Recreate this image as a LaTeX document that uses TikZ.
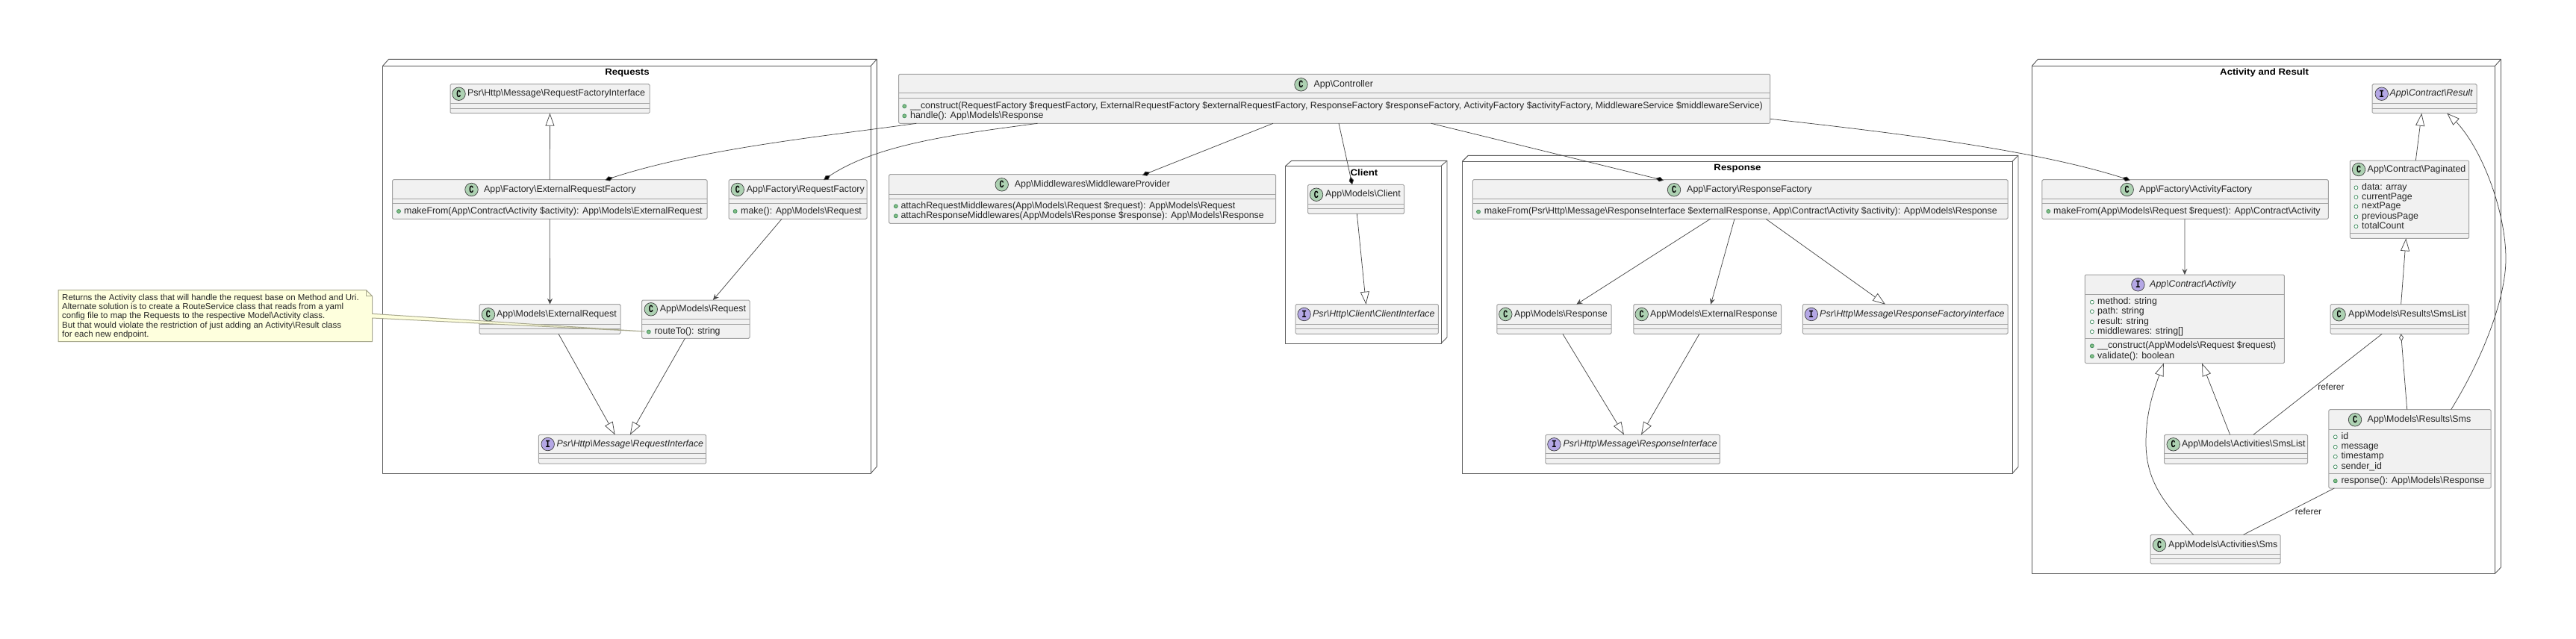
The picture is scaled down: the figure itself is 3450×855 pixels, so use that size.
\documentclass[tikz,border=0pt]{standalone}
\usepackage{fontspec}
\usepackage{graphicx}
\setmainfont{Liberation Sans}
\newfontfamily\monof{Liberation Mono}
\usetikzlibrary{arrows.meta,calc,bending}
\definecolor{boxln}{HTML}{A2A2A2}
\definecolor{boxfill}{HTML}{F1F1F1}
\definecolor{pkgln}{HTML}{5A5A5A}
\definecolor{edgeclr}{HTML}{4A4A4A}
\definecolor{spotC}{HTML}{ADD1B2}
\definecolor{spotI}{HTML}{B4A7E5}
\definecolor{txt}{HTML}{262626}
\definecolor{notefill}{HTML}{FEFFDD}
\definecolor{noteln}{HTML}{A8A88E}
\definecolor{dotgreen}{HTML}{84BE84}
\definecolor{dotln}{HTML}{3A8A5A}
\newcommand{\bs}{\textbackslash}
\newcommand{\widetitle}[1]{\scalebox{1.1}[1]{#1}}
\newcounter{tn}
\tikzset{
  pxgrid/.style={x=1pt,y=-1pt},
  classbox/.style={draw=boxln,fill=boxfill,line width=1pt,rounded corners=1.5pt,inner sep=0pt,outer sep=0pt},
  divline/.style={draw=boxln,line width=1pt},
  pkgline/.style={draw=pkgln,line width=0.9pt,line join=round},
  titletext/.style={font=\fontsize{12.4}{14}\selectfont,text=txt,anchor=west,inner sep=0pt,text height=8.8pt,text depth=2.6pt},
  ititletext/.style={titletext,font=\fontsize{12.4}{14}\selectfont\itshape},
  rowtext/.style={titletext},
  pkgtitle/.style={font=\fontsize{12}{15}\selectfont\bfseries,text=black,inner sep=0pt,text height=9pt,text depth=2.6pt},
  edgelabel/.style={font=\fontsize{12}{14}\selectfont,text=txt,inner sep=0pt},
  notetext/.style={font=\fontsize{11.5}{13}\selectfont,text=txt,anchor=west,inner sep=0pt,text height=8.2pt,text depth=2.4pt},
  spotmark/.style={circle,draw=black!75,line width=0.7pt,inner sep=0pt,minimum size=17.5pt,font=\fontsize{14}{14}\monof\bfseries},
  spotc/.style={spotmark,fill=spotC},
  spoti/.style={spotmark,fill=spotI},
  dotm/.style={circle,draw=dotln,fill=dotgreen,line width=0.7pt,inner sep=0pt,minimum size=5pt},
  dotf/.style={circle,draw=dotln,fill=white,line width=0.7pt,inner sep=0pt,minimum size=5pt},
  lnk/.style={draw=edgeclr,line width=0.75pt},
  arrowopen/.style={lnk,-{Stealth[length=8pt,width=7pt,inset=3pt,fill=edgeclr]}},
  arrowgen/.style={lnk,-{Triangle[open,length=17pt,width=12pt,fill=white]}},
  arrowcomp/.style={lnk,-{Diamond[length=11pt,width=6.5pt,fill=black]}},
  arrowagg/.style={lnk,-{Diamond[open,length=10pt,width=6pt,fill=white]}},
}
% class box with its two compartment lines
\newcommand{\cb}[7]{%
  \pgfmathsetmacro{\boxw}{#4-#2}\pgfmathsetmacro{\boxh}{#5-#3}%
  \node[classbox,minimum width=\boxw pt,minimum height=\boxh pt] (#1) at ({(#2+#4)/2},{(#3+#5)/2}) {};
  \draw[divline] (#2,#6) -- (#4,#6);
  \draw[divline] (#2,#7) -- (#4,#7);
}
\newcommand{\tx}[4]{\stepcounter{tn}\node[#1] (t\arabic{tn}) at (#2,#3) {#4};}
\newcommand{\hc}[4]{\stepcounter{tn}\node[spotc] (s\arabic{tn}) at (#1,#2) {\scalebox{.72}[1]{C}};\tx{titletext}{#3}{#2}{#4}}
\newcommand{\hi}[4]{\stepcounter{tn}\node[spoti] (s\arabic{tn}) at (#1,#2) {\scalebox{.8}[1]{I}};\tx{ititletext}{#3}{#2}{#4}}
\newcommand{\rowm}[4]{\stepcounter{tn}\node[dotm] (d\arabic{tn}) at (#1,#3) {};\tx{rowtext}{#2}{#3}{#4}}
\newcommand{\rowf}[4]{\stepcounter{tn}\node[dotf] (d\arabic{tn}) at (#1,#3) {};\tx{rowtext}{#2}{#3}{#4}}
\begin{document}
\begin{tikzpicture}[pxgrid]
\useasboundingbox (0,0) rectangle (3450,855);
\fill[white] (0,0) rectangle (3450,855);

% packages
\draw[pkgline] (512.6,88.3) rectangle (1166.3,634);
\draw[pkgline] (512.6,88.3) -- (520.6,79.3) -- (1174.3,79.3) -- (1174.3,625) -- (1166.3,634);
\draw[pkgline] (1166.3,88.3) -- (1174.3,79.3);
\node[pkgtitle] (pkgreq) at (840,97) {\widetitle{Requests}};

\draw[pkgline] (1721.7,222.3) rectangle (1930,460);
\draw[pkgline] (1721.7,222.3) -- (1729.7,215.3) -- (1938,215.3) -- (1938,452) -- (1930,460);
\draw[pkgline] (1930,222.3) -- (1938,215.3);
\node[pkgtitle] (pkgcl) at (1827,232) {\widetitle{Client}};

\draw[pkgline] (1958.3,216.3) rectangle (2695,634.3);
\draw[pkgline] (1958.3,216.3) -- (1966.3,208.3) -- (2703,208.3) -- (2703,625.3) -- (2695,634.3);
\draw[pkgline] (2695,216.3) -- (2703,208.3);
\node[pkgtitle] (pkgresp) at (2327,225.3) {\widetitle{Response}};

\draw[pkgline] (2721.4,88.3) rectangle (3341.5,768.3);
\draw[pkgline] (2721.4,88.3) -- (2729.4,79.3) -- (3349.5,79.3) -- (3349.5,760) -- (3341.5,768.3);
\draw[pkgline] (3341.5,88.3) -- (3349.5,79.3);
\node[pkgtitle] (pkgact) at (3032.6,97) {\widetitle{Activity and Result}};

% class boxes
\cb{rfi}{603}{112.7}{870}{151.7}{138.7}{145.3}
\cb{erf}{525.5}{240.7}{947}{293.3}{266.3}{272.7}
\cb{rqf}{976}{240.7}{1161}{293.3}{266.3}{272.7}
\cb{mer}{642}{407.7}{831}{447.3}{434}{440.3}
\cb{mr}{859.6}{402}{1004}{453.3}{427.3}{434}
\cb{ri}{721.4}{582.3}{945.7}{621}{607.7}{614.7}
\cb{ctl}{1203.5}{99.3}{2370.7}{165.3}{124.7}{131.3}
\cb{mw}{1190.7}{233.7}{1708.6}{299.3}{260.3}{266.7}
\cb{cl}{1751.7}{247.3}{1880.5}{286.3}{273.3}{279.7}
\cb{ci}{1735}{407.7}{1926.4}{447.3}{434.3}{440.7}
\cb{respf}{1972.3}{240.7}{2689}{293.3}{266.3}{272.7}
\cb{mresp}{2004.8}{407.7}{2158}{447.3}{434.3}{440.7}
\cb{mext}{2187.9}{407.7}{2385.6}{447.3}{434.3}{440.7}
\cb{rfii}{2414.3}{407.7}{2689}{447.3}{434.3}{440.7}
\cb{rint}{2069.9}{582.3}{2303.3}{621.3}{607.7}{614.3}
\cb{af}{2734.8}{240.7}{3118.3}{293.3}{266.3}{272.7}
\cb{act}{2792.4}{368}{3059.4}{486.7}{394.3}{453.3}
\cb{res}{3177.2}{112.7}{3317}{151.7}{138.7}{145.3}
\cb{pag}{3147.3}{215}{3306.7}{319.3}{240.3}{312.3}
\cb{rsl}{3121}{407.7}{3306.7}{447.3}{434}{440.3}
\cb{asl}{2898.7}{582.3}{3090.6}{621.3}{607.7}{614.3}
\cb{rs}{3118.8}{548.7}{3336.2}{654}{575.3}{634.3}
\cb{as}{2880}{716.3}{3054}{755}{742}{748.7}

% headers
\hc{614.5}{125.7}{626}{Psr\bs Http\bs Message\bs RequestFactoryInterface}
\hc{631.5}{254}{648}{App\bs Factory\bs ExternalRequestFactory}
\hc{987.8}{254}{999.7}{App\bs Factory\bs RequestFactory}
\hc{654}{421.3}{665}{App\bs Models\bs ExternalRequest}
\hc{871.8}{414.3}{883.7}{App\bs Models\bs Request}
\hi{733.7}{595}{745.5}{Psr\bs Http\bs Message\bs RequestInterface}
\hc{1742.5}{113.3}{1759.5}{App\bs Controller}
\hc{1341.7}{247.3}{1358.7}{App\bs Middlewares\bs MiddlewareProvider}
\hc{1763}{260.7}{1775}{App\bs Models\bs Client}
\hi{1746.6}{421}{1758}{Psr\bs Http\bs Client\bs ClientInterface}
\hc{2242}{254.3}{2259}{App\bs Factory\bs ResponseFactory}
\hc{2016.3}{421}{2027.8}{App\bs Models\bs Response}
\hc{2198.7}{421}{2210}{App\bs Models\bs ExternalResponse}
\hi{2425.8}{421}{2437}{Psr\bs Http\bs Message\bs ResponseFactoryInterface}
\hi{2081.4}{595.3}{2093.5}{Psr\bs Http\bs Message\bs ResponseInterface}
\hc{2848.7}{254}{2865}{App\bs Factory\bs ActivityFactory}
\hi{2863.4}{381.3}{2879}{App\bs Contract\bs Activity}
\hi{3189.7}{125.7}{3200.4}{App\bs Contract\bs Result}
\hc{3159}{227}{3170.5}{App\bs Contract\bs Paginated}
\hc{3132.6}{421.3}{3145}{App\bs Models\bs Results\bs SmsList}
\hc{2910.7}{595.3}{2921.9}{App\bs Models\bs Activities\bs SmsList}
\hc{3154}{562.3}{3170.5}{App\bs Models\bs Results\bs Sms}
\hc{2892}{730}{2904}{App\bs Models\bs Activities\bs Sms}

% rows
\rowm{534}{541}{283}{makeFrom(App\bs Contract\bs Activity \$activity): App\bs Models\bs ExternalRequest}
\rowm{984.6}{992}{283}{make(): App\bs Models\bs Request}
\rowm{868.8}{876.4}{444.5}{routeTo(): string}
\rowm{1211.3}{1219}{142.3}{\_\_construct(RequestFactory \$requestFactory, ExternalRequestFactory \$externalRequestFactory, ResponseFactory \$responseFactory, ActivityFactory \$activityFactory, MiddlewareService \$middlewareService)}
\rowm{1211.3}{1219}{155.3}{handle(): App\bs Models\bs Response}
\rowm{1199.8}{1206.3}{276.3}{attachRequestMiddlewares(App\bs Models\bs Request \$request): App\bs Models\bs Request}
\rowm{1199.8}{1206.3}{289.3}{attachResponseMiddlewares(App\bs Models\bs Response \$response): App\bs Models\bs Response}
\rowm{1980}{1987.6}{283.7}{makeFrom(Psr\bs Http\bs Message\bs ResponseInterface \$externalResponse, App\bs Contract\bs Activity \$activity): App\bs Models\bs Response}
\rowm{2743.3}{2750}{283}{makeFrom(App\bs Models\bs Request \$request): App\bs Contract\bs Activity}
\rowf{2801.8}{2809}{404.7}{method: string}
\rowf{2801.8}{2809}{417.3}{path: string}
\rowf{2801.8}{2809}{431.3}{result: string}
\rowf{2801.8}{2809}{444.3}{middlewares: string[]}
\rowm{2801.8}{2809}{463.3}{\_\_construct(App\bs Models\bs Request \$request)}
\rowm{2801.8}{2809}{477.3}{validate(): boolean}
\rowf{3155.4}{3163}{251.3}{data: array}
\rowf{3155.4}{3163}{264}{currentPage}
\rowf{3155.4}{3163}{276.7}{nextPage}
\rowf{3155.4}{3163}{290.3}{previousPage}
\rowf{3155.4}{3163}{303.3}{totalCount}
\rowf{3127.7}{3135.3}{585.3}{id}
\rowf{3127.7}{3135.3}{598.7}{message}
\rowf{3127.7}{3135.3}{611.7}{timestamp}
\rowf{3127.7}{3135.3}{625.3}{sender\_id}
\rowm{3127.7}{3135.3}{644.3}{response(): App\bs Models\bs Response}

% connectors
\draw[arrowgen] (erf.north) -- (rfi.south);
\draw[arrowopen] (erf.south) -- (mer.north);
\draw[arrowopen] ([xshift=-21.5pt]rqf.south) -- ([xshift=23.1pt]mr.north);
\draw[arrowgen] ([xshift=11.5pt]mer.south) -- ([xshift=-9.95pt]ri.north);
\draw[arrowgen] ([xshift=-14.4pt]mr.south) -- ([xshift=10.35pt]ri.north);
\draw[arrowcomp] ([xshift=-559.7pt]ctl.south) .. controls (1100,183) and (930,200) .. ([xshift=74.25pt,yshift=-0.5pt]erf.north);
\draw[arrowcomp] ([xshift=-397.6pt]ctl.south) .. controls (1270,181) and (1165,195) .. ([xshift=34.5pt,yshift=-0.5pt]rqf.north);
\draw[arrowcomp] ([xshift=-82.1pt]ctl.south) -- ([xshift=80.35pt,yshift=-1pt]mw.north);
\draw[arrowcomp] ([xshift=5.9pt]ctl.south) -- ([xshift=-5.1pt]cl.north);
\draw[arrowcomp] ([xshift=129.6pt]ctl.south) -- ([xshift=-102.65pt,yshift=-0.8pt]respf.north);
\draw[arrowcomp] ([yshift=-27pt]ctl.east) .. controls (2520,176) and (2730,200) .. ([xshift=-73.85pt,yshift=-0.8pt]af.north);
\draw[arrowgen] ([xshift=1.2pt]cl.south) -- ([xshift=-1.2pt]ci.north);
\draw[arrowopen] ([xshift=-40.05pt]respf.south) -- ([xshift=29.9pt]mresp.north);
\draw[arrowopen] ([xshift=-7.65pt]respf.south) -- ([xshift=4.45pt]mext.north);
\draw[arrowgen] ([xshift=34.35pt]respf.south) -- ([xshift=-26.65pt]rfii.north);
\draw[arrowgen] ([xshift=11.5pt]mresp.south) -- ([xshift=-11.6pt]rint.north);
\draw[arrowgen] ([xshift=-10.85pt]mext.south) -- ([xshift=11.4pt]rint.north);
\draw[arrowopen] ([xshift=-0.65pt]af.south) -- (act.north);
\draw[arrowgen] ([xshift=8.3pt]pag.north) -- ([xshift=-3.8pt]res.south);
\draw[arrowgen] ([xshift=1.75pt]rsl.north) -- ([xshift=-4.7pt]pag.south);
\draw[arrowgen] ([xshift=55.1pt]rs.north) .. controls (3325,480) and (3356,400) .. (3356,346.7) .. controls (3356,280) and (3320,185) .. ([xshift=30.1pt]res.south);
\draw[arrowagg] ([xshift=-3.8pt]rs.north) -- ([xshift=1.75pt]rsl.south);
\draw[arrowgen] ([xshift=-8.05pt]asl.north) -- ([xshift=23.2pt]act.south);
\draw[arrowgen] ([xshift=-29.5pt]as.north) .. controls (2905,680) and (2874,650) .. (2874,593.3) .. controls (2874,550) and (2885,520) .. ([xshift=-28.1pt]act.south);
\draw[lnk] ([xshift=23.25pt]asl.north) -- ([xshift=-23.65pt]rsl.south);
\draw[lnk] ([xshift=37.5pt]as.north) -- ([xshift=-101.2pt]rs.south);
\node[edgelabel] (lbla) at (3121.9,518.3) {referer};
\node[edgelabel] (lblb) at (3091.5,685) {referer};

% note with its wedge to the routeTo() row
\coordinate (notetip) at (863,444);
\node[inner sep=0pt,outer sep=0pt,minimum width=420.5pt,minimum height=69pt] (note) at (288.25,423.2) {};
\draw[draw=noteln,fill=notefill,line width=1pt,line join=round]
  (note.south west) -- (note.south east) -- ([yshift=-37.3pt]note.north east) -- (notetip)
  -- ([yshift=-31.6pt]note.north east) -- ([yshift=-8pt]note.north east)
  -- ([xshift=-8pt]note.north east) -- (note.north west) -- cycle;
\draw[draw=noteln,line width=0.8pt] ([yshift=-8pt]note.north east) -- ([xshift=-8pt,yshift=-8pt]note.north east) -- ([xshift=-8pt]note.north east);
\tx{notetext}{83}{399.3}{Returns the Activity class that will handle the request base on Method and Uri.}
\tx{notetext}{83}{411.3}{Alternate solution is to create a RouteService class that reads from a yaml}
\tx{notetext}{83}{423.3}{config file to map the Requests to the respective Model\bs Activity class.}
\tx{notetext}{83}{436.3}{But that would violate the restriction of just adding an Activity\bs Result class}
\tx{notetext}{83}{448.3}{for each new endpoint.}
\end{tikzpicture}
\end{document}
